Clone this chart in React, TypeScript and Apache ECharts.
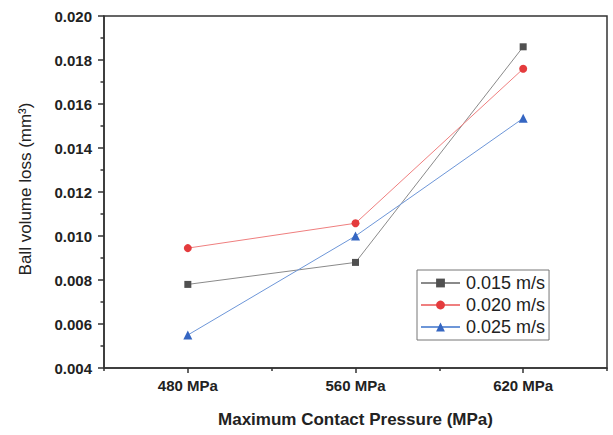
import React, { useEffect, useRef } from "react";
import * as echarts from "echarts";

const categories = ["480 MPa", "560 MPa", "620 MPa"];
const seriesNames = ["0.015 m/s", "0.020 m/s", "0.025 m/s"];
const v015 = [0.0078, 0.0088, 0.0186];
const v020 = [0.00945, 0.01058, 0.0176];
const v025 = [0.0055, 0.01, 0.01535];

const FONT = "'Liberation Sans', Arial, sans-serif";

export default function App() {
  const ref = useRef<HTMLDivElement>(null);
  useEffect(() => {
    if (!ref.current) return;
    const chart = echarts.init(ref.current, null, { renderer: "svg" });
    const mk = (name: string, data: number[], symbol: string, size: number, mColor: string, lColor: string) => ({
      name,
      type: "line",
      data,
      symbol,
      symbolSize: size,
      showAllSymbol: true,
      itemStyle: { color: mColor, borderWidth: 0 },
      lineStyle: { color: lColor, width: 1 },
      emphasis: { disabled: true },
      z: 3,
    });
    chart.setOption({
      animation: false,
      backgroundColor: "#ffffff",
      textStyle: { fontFamily: FONT },
      grid: {
        left: 104,
        right: 6,
        top: 16,
        bottom: 67,
        show: true,
        borderColor: "#333",
        borderWidth: 1.5,
        backgroundColor: "transparent",
      },
      legend: {
        orient: "vertical",
        left: 417,
        top: 270,
        padding: [4, 4, 4, 3],
        itemGap: 4,
        itemWidth: 39,
        itemHeight: 11,
        borderColor: "#777",
        borderWidth: 1,
        backgroundColor: "#fff",
        textStyle: { fontSize: 18, fontFamily: FONT, color: "#222", padding: [0, 0, 0, 1] },
        data: seriesNames,
      },
      xAxis: [
        {
          type: "category",
          data: categories,
          boundaryGap: true,
          axisLine: { show: true, lineStyle: { color: "#333", width: 1.5 } },
          axisTick: { show: true, alignWithLabel: true, length: 5, lineStyle: { color: "#333", width: 1.5 } },
          axisLabel: { fontSize: 15, fontWeight: "bold", color: "#222", fontFamily: FONT, margin: 10 },
          splitLine: { show: false },
          name: "Maximum Contact Pressure (MPa)",
          nameLocation: "middle",
          nameGap: 43,
          nameTextStyle: { fontSize: 17, fontWeight: "bold", color: "#222", fontFamily: FONT },
        },
        {
          type: "category",
          data: categories,
          position: "bottom",
          boundaryGap: true,
          axisLine: { show: false },
          axisTick: { show: true, length: 3, lineStyle: { color: "#333", width: 1.5 } },
          axisLabel: { show: false },
          splitLine: { show: false },
        },
      ],
      yAxis: {
        type: "value",
        min: 0.004,
        max: 0.02,
        interval: 0.002,
        axisLine: { show: true, lineStyle: { color: "#333", width: 1.5 } },
        axisTick: { show: true, length: 6, lineStyle: { color: "#333", width: 1.5 } },
        minorTick: { show: true, splitNumber: 2, length: 3.5, lineStyle: { color: "#333", width: 1.5 } },
        axisLabel: {
          fontSize: 15,
          fontWeight: "bold",
          color: "#222",
          fontFamily: FONT,
          margin: 12,
          formatter: (v: number) => v.toFixed(3),
        },
        splitLine: { show: false },
        name: "Ball volume loss (mm³)",
        nameLocation: "middle",
        nameGap: 70,
        nameTextStyle: { fontSize: 17, color: "#222", fontFamily: FONT, padding: [0, 0, 0, 6] },
      },
      series: [
        mk(seriesNames[0], v015, "rect", 7, "#505050", "#8a8a8a"),
        mk(seriesNames[1], v020, "circle", 8, "#e43b3d", "#ef7f7f"),
        mk(seriesNames[2], v025, "triangle", 9, "#3566c2", "#6d96d8"),
      ],
    });
    return () => chart.dispose();
  }, []);
  return <div ref={ref} style={{ width: 613, height: 435, position: "absolute", left: 0, top: 0 }} />;
}
